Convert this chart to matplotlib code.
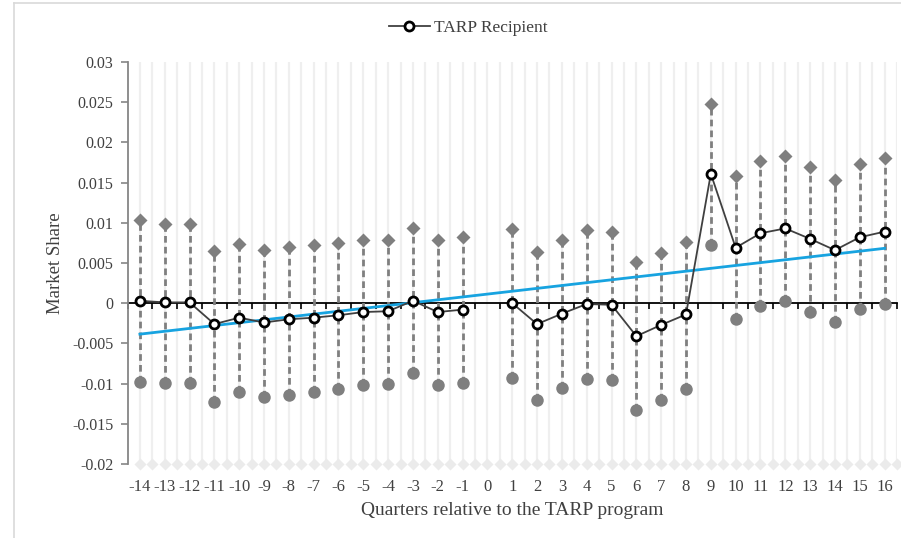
import matplotlib
matplotlib.use("Agg")
from matplotlib import rcParams
rcParams['font.family'] = ['Liberation Serif', 'DejaVu Serif']
import matplotlib.pyplot as plt
import numpy as np

# quarters relative to the TARP program
quarters = list(range(-14, 17))

# point estimate (None = no estimate for quarter 0)
estimate = [0.0003, 0.0001, 0.0001, -0.0026, -0.0018, -0.0024, -0.0020, -0.0018,
            -0.0015, -0.0011, -0.0010, 0.0003, -0.0011, -0.0008, None,
            0.0000, -0.0026, -0.0013, -0.0001, -0.0002, -0.0041, -0.0027, -0.0014,
            0.0161, 0.0069, 0.0087, 0.0093, 0.0080, 0.0066, 0.0082, 0.0089]

# upper bound (diamonds)
upper = [0.0103, 0.0098, 0.0098, 0.0065, 0.0074, 0.0066, 0.0070, 0.0073,
         0.0075, 0.0078, 0.0079, 0.0093, 0.0079, 0.0082, None,
         0.0092, 0.0064, 0.0078, 0.0091, 0.0089, 0.0051, 0.0063, 0.0076,
         0.0248, 0.0158, 0.0177, 0.0183, 0.0169, 0.0153, 0.0173, 0.0180]

# lower bound (circles)
lower = [-0.0098, -0.0099, -0.0099, -0.0123, -0.0111, -0.0117, -0.0114, -0.0111,
         -0.0107, -0.0102, -0.0100, -0.0087, -0.0102, -0.0099, None,
         -0.0093, -0.0121, -0.0105, -0.0094, -0.0095, -0.0133, -0.0120, -0.0107,
         0.0073, -0.0020, -0.0003, 0.0003, -0.0011, -0.0024, -0.0007, -0.0001]

y_ticks = np.arange(-0.02, 0.0301, 0.005)

text_col = '#404040'
grey = '#7f7f7f'

def to_arr(vals):
    return np.array([np.nan if v is None else v for v in vals], dtype=float)

est = to_arr(estimate)
hi = to_arr(upper)
lo = to_arr(lower)
idx = np.arange(len(quarters))

fig = plt.figure(figsize=(9.01, 5.38), dpi=100)
ax = fig.add_axes([127.5 / 901, (538 - 464) / 538, (897 - 127.5) / 901, (464 - 62) / 538])
ax.set_xlim(-0.5, len(quarters) - 0.5)
ax.set_ylim(-0.02, 0.03)

# faint background drop lines (category centres and boundaries)
half = np.arange(0, len(quarters), 0.5)
ax.vlines(half, -0.02, 0.03, color='#efefef', lw=1.6, zorder=0)
ax.plot(half, np.full(len(half), -0.02), 'D', color='#ebebeb', ms=6, mec='none',
        clip_on=False, zorder=0)

# confidence interval: dashed high-low lines
ok = ~np.isnan(hi)
ax.vlines(idx[ok], lo[ok], hi[ok], colors=grey, lw=2, linestyles=(0, (2.4, 1.5)), zorder=2)
ax.plot(idx, hi, 'D', color=grey, ms=7, mec='none', ls='none', zorder=3)
ax.plot(idx, lo, 'o', color=grey, ms=9, mec='none', ls='none', zorder=3)

# zero axis with boundary ticks
zero_loc = (0 - (-0.02)) / 0.05
sec = ax.secondary_xaxis(zero_loc)
sec.spines['bottom'].set_color('black')
sec.spines['bottom'].set_linewidth(1.3)
sec.set_xticks(np.arange(-0.5, len(quarters), 1.0))
sec.set_xticklabels([])
sec.tick_params(axis='x', direction='out', length=4, width=1.2, color='black')

# point estimates
line, = ax.plot(idx, est, '-o', color='#404040', lw=1.3, ms=6.5, mfc='white', mec='black',
                mew=2.0, zorder=5, label='TARP Recipient')

# linear trend fitted to the estimates
coef = np.polyfit(idx[~np.isnan(est)], est[~np.isnan(est)], 1)
ax.plot(idx, np.polyval(coef, idx), color='#17a3e0', lw=2, zorder=4)

# axes styling
for s in ['top', 'right', 'bottom']:
    ax.spines[s].set_visible(False)
ax.spines['left'].set_color('#868686')
ax.spines['left'].set_linewidth(1.3)
ax.set_yticks(y_ticks)
ax.set_yticklabels(['%g' % round(v, 3) for v in y_ticks])
ax.tick_params(axis='y', direction='out', length=5, width=1.2, color='#868686',
               labelsize=11.5, labelcolor=text_col, pad=5)
ax.set_xticks(idx)
ax.set_xticklabels([str(q) for q in quarters])
ax.tick_params(axis='x', length=0, labelsize=12, labelcolor=text_col, pad=11)

ax.set_xlabel('Quarters relative to the TARP program', fontsize=14, color=text_col, labelpad=5)
ax.set_ylabel('Market Share', fontsize=13.5, color=text_col, labelpad=6)

fig.legend(handles=[line], loc='center', bbox_to_anchor=(468 / 901, 1 - 28 / 538),
           frameon=False, fontsize=12.5, labelcolor=text_col, handlelength=2.4,
           handletextpad=0.2)

# chart area border
fig.add_artist(plt.Line2D([14 / 901, 14 / 901], [0, 1 - 3 / 538], color='#d9d9d9', lw=1.2))
fig.add_artist(plt.Line2D([14 / 901, 1], [1 - 3 / 538, 1 - 3 / 538], color='#d9d9d9', lw=1.2))

fig.savefig('out.png', dpi=100)
